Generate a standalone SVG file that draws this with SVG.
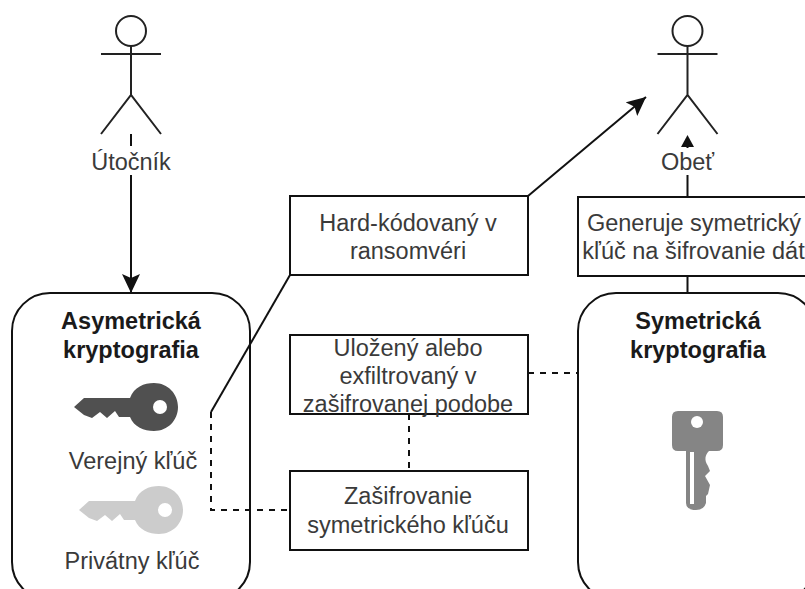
<svg xmlns="http://www.w3.org/2000/svg" xmlns:xlink="http://www.w3.org/1999/xlink" width="805" height="589" viewBox="0 0 805 589">
<style>
text{font-family:"Liberation Sans",Arial,sans-serif;font-size:23.5px;fill:#3a3a3a;text-anchor:middle}
.b{font-weight:bold;fill:#1a1a1a}
.box{fill:#fff;stroke:#111;stroke-width:2}
.a{fill:none;stroke:#222;stroke-width:2}
.c{fill:none;stroke:#111;stroke-width:2}
.d{fill:none;stroke:#111;stroke-width:2;stroke-dasharray:6 6}
</style>
<defs>
<marker id="ah" markerUnits="userSpaceOnUse" markerWidth="22" markerHeight="22" refX="19" refY="9" orient="auto"><path d="M0 0L19 9L0 18L4 9Z" fill="#111"/></marker>
<g id="key">
<path d="M74 407L84 398L130 398C134 387 144 383 154 383C168 383 178 394 178 407C178 420 168 431 154 431C144 431 134 427 130 417L119 417L115 411L107 418L100 412L92 418L84 415Z"/>
<circle cx="160" cy="407" r="7" fill="#fff"/>
</g>
</defs>
<rect width="805" height="589" fill="#fff"/>
<g id="asym">
<rect class="box" x="12" y="293" width="238" height="307" rx="38"/>
<text class="b" x="131" y="329">Asymetrická</text>
<text class="b" x="131" y="358">kryptografia</text>
<use xlink:href="#key" fill="#505050"/>
<text x="133" y="469">Verejný kľúč</text>
<use xlink:href="#key" x="5" y="103" fill="#ccc"/>
<text x="132" y="569">Privátny kľúč</text>
</g>
<g id="hard"><rect class="box" x="290" y="196" width="238" height="79"/><text x="408" y="231">Hard-kódovaný v</text><text x="408" y="259">ransomvéri</text></g>
<g id="stored"><rect class="box" x="290" y="335" width="238" height="79"/><text x="408" y="356">Uložený alebo</text><text x="408" y="384">exfiltrovaný v</text><text x="408" y="412">zašifrovanej podobe</text></g>
<g id="encrypt"><rect class="box" x="290" y="471" width="238" height="79"/><text x="408" y="504">Zašifrovanie</text><text x="408" y="533">symetrického kľúču</text></g>
<g id="gen"><rect class="box" x="578" y="197" width="238" height="79"/><text x="694" y="231">Generuje symetrický</text><text x="693.5" y="259">kľúč na šifrovanie dát</text></g>
<g id="sym">
<rect class="box" x="578" y="293" width="238" height="307" rx="38"/>
<text class="b" x="698" y="329">Symetrická</text>
<text class="b" x="698" y="358">kryptografia</text>
<path d="M678 411H717Q723 411 723 417V445Q723 451 717 451H709C705 455 704 460 708 466L710 471L705 476L710 485L708 494L706 496V503Q704 510 696 510Q686 510 686 503V451H678Q672 451 672 445V417Q672 411 678 411Z" fill="#858585"/>
<circle cx="697" cy="422" r="6" fill="#fff"/>
<rect x="690" y="452" width="4" height="52" fill="#fff"/>
</g>
<g id="connectors">
<path class="c" d="M131 134V293" marker-end="url(#ah)"/>
<path class="c" d="M687.5 293V276M687.5 197V147"/>
<path d="M687.5 135L694 147H681Z" fill="#111"/>
<path class="c" d="M211 412L290 275"/>
<path class="c" d="M528 196L646 97" marker-end="url(#ah)"/>
<path class="d" d="M211 412V510H290"/>
<path class="d" d="M528 373H578"/>
<path class="d" d="M409 414V471"/>
</g>
<g id="attacker">
<circle class="a" cx="131" cy="31" r="15" fill="#fff"/>
<path class="a" d="M131 46V95M101 54H161M101 134L131 95L161 134"/>
<rect x="85" y="146" width="92" height="29" fill="#fff"/>
<text x="131" y="170">Útočník</text>
</g>
<g id="victim">
<circle class="a" cx="687.5" cy="31" r="15" fill="#fff"/>
<path class="a" d="M687.5 46V95M657.5 54H717.5M657.5 134L687.5 95L717.5 134"/>
<rect x="657" y="148" width="61" height="27" fill="#fff"/>
<text x="687.5" y="170">Obeť</text>
</g>
</svg>
